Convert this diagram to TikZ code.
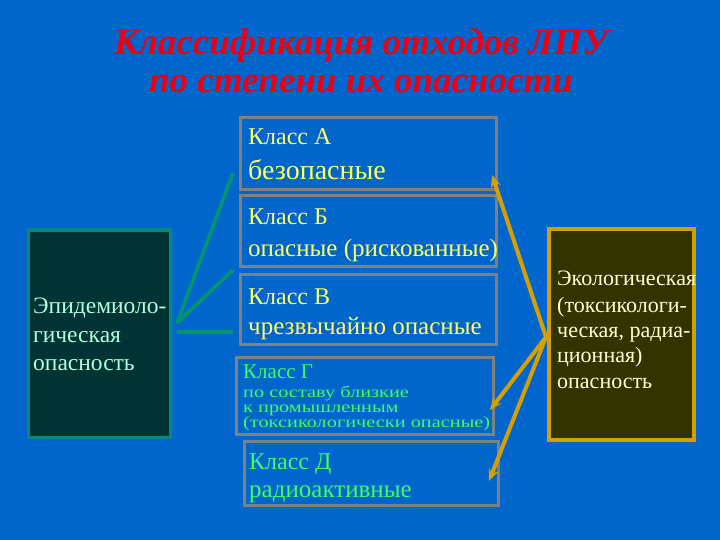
\documentclass[tikz,border=0pt]{standalone}
\usepackage{fontspec}
\setmainfont{Liberation Serif}
\newfontfamily\wideserif[FakeStretch=1.27]{Liberation Serif}
\usetikzlibrary{arrows.meta}
\definecolor{bg}{RGB}{0,102,204}
\definecolor{titlered}{RGB}{235,0,20}
\definecolor{boxgray}{RGB}{128,128,128}
\definecolor{txtyellow}{RGB}{255,255,102}
\definecolor{txtgreen}{RGB}{60,255,100}
\definecolor{leftfill}{RGB}{0,51,51}
\definecolor{leftdraw}{RGB}{0,140,120}
\definecolor{lefttxt}{RGB}{175,255,225}
\definecolor{rightfill}{RGB}{51,51,0}
\definecolor{gold}{RGB}{214,158,0}
\definecolor{righttxt}{RGB}{255,255,210}
\definecolor{teal}{RGB}{0,150,110}
\tikzset{
  classbox/.style={draw=boxgray, line width=3pt, inner sep=0pt},
  lbl/.style={anchor=base west, inner sep=0pt},
  goldarrow/.style={draw=gold, line width=4pt, -{Stealth[length=12pt,width=10pt]}},
  tealline/.style={draw=teal, line width=3.5pt},
}
\newcommand{\fs}[1]{\fontsize{#1}{#1}\selectfont}
\begin{document}
\begin{tikzpicture}[x=1pt,y=-1pt]
\fill[bg] (0,0) rectangle (720,540);
\useasboundingbox (0,0) rectangle (720,540);
% title
\node[anchor=base, inner sep=0, text=titlered, font=\fs{37}\bfseries\itshape] (t1) at (361,55) {Классификация отходов ЛПУ};
\node[anchor=base, inner sep=0, text=titlered, font=\fs{37}\bfseries\itshape] (t2) at (361,93) {по степени их опасности};
% class boxes
\draw[classbox] (240,118) rectangle (496,190);
\draw[classbox] (240,196) rectangle (496,266);
\draw[classbox] (240,274) rectangle (496,344);
\draw[classbox] (236,357) rectangle (493,434);
\draw[classbox] (244,441) rectangle (498,505);
% texts
\node[lbl, text=txtyellow, font=\fs{24}] (a1) at (248,145) {Класс А};
\node[lbl, text=txtyellow, font=\fs{28}] (a2) at (248,180) {безопасные};
\node[lbl, text=txtyellow, font=\fs{24}] (b1) at (248,225) {Класс Б};
\node[lbl, text=txtyellow, font=\fs{25}] (b2) at (248,256) {опасные (рискованные)};
\node[lbl, text=txtyellow, font=\fs{24}] (c1) at (248,304) {Класс В};
\node[lbl, text=txtyellow, font=\fs{25}] (c2) at (248,334) {чрезвычайно опасные};
\node[lbl, text=txtgreen, font=\fs{21}] (g1) at (243,378) {Класс Г};
\node[lbl, text=txtgreen, font=\wideserif\fs{16}] (g2) at (243,397) {по составу близкие};
\node[lbl, text=txtgreen, font=\wideserif\fs{16}] (g3) at (243,412) {к промышленным};
\node[lbl, text=txtgreen, font=\wideserif\fs{16}] (g4) at (243,427) {(токсикологически опасные)};
\node[lbl, text=txtgreen, font=\fs{24}] (d1) at (249,469) {Класс Д};
\node[lbl, text=txtgreen, font=\fs{25}] (d2) at (249,497) {радиоактивные};
% left box
\draw[fill=leftfill, draw=leftdraw, line width=3pt] (28,230) rectangle (170,437);
\node[lbl, text=lefttxt, font=\fs{23.5}] (l1) at (33,313) {Эпидемиоло-};
\node[lbl, text=lefttxt, font=\fs{23.5}] (l2) at (33,342) {гическая};
\node[lbl, text=lefttxt, font=\fs{23.5}] (l3) at (33,370) {опасность};
% right box
\draw[fill=rightfill, draw=gold, line width=4pt] (549,229) rectangle (694,440);
\node[lbl, text=righttxt, font=\fs{22}] (r1) at (557,285) {Экологическая};
\node[lbl, text=righttxt, font=\fs{22}] (r2) at (557,312) {(токсикологи-};
\node[lbl, text=righttxt, font=\fs{22}] (r3) at (557,337) {ческая, радиа-};
\node[lbl, text=righttxt, font=\fs{22}] (r4) at (557,362) {ционная)};
\node[lbl, text=righttxt, font=\fs{22}] (r5) at (557,388) {опасность};
% connector points
\coordinate (lp) at (177,323);
\coordinate (lq) at (177,332);
\coordinate (ta) at (233,173);
\coordinate (tb) at (233,270);
\coordinate (tc) at (233,332);
\coordinate (rp) at (546,337);
\coordinate (ga) at (492,175);
\coordinate (gg) at (490,410);
\coordinate (gd) at (489,481);
% teal lines
\draw[tealline] (lp) -- (ta);
\draw[tealline] (lp) -- (tb);
\draw[tealline] (lq) -- (tc);
% gold arrows
\draw[goldarrow] (rp) -- (ga);
\draw[goldarrow] (rp) -- (gg);
\draw[goldarrow] (rp) -- (gd);
\end{tikzpicture}
\end{document}
